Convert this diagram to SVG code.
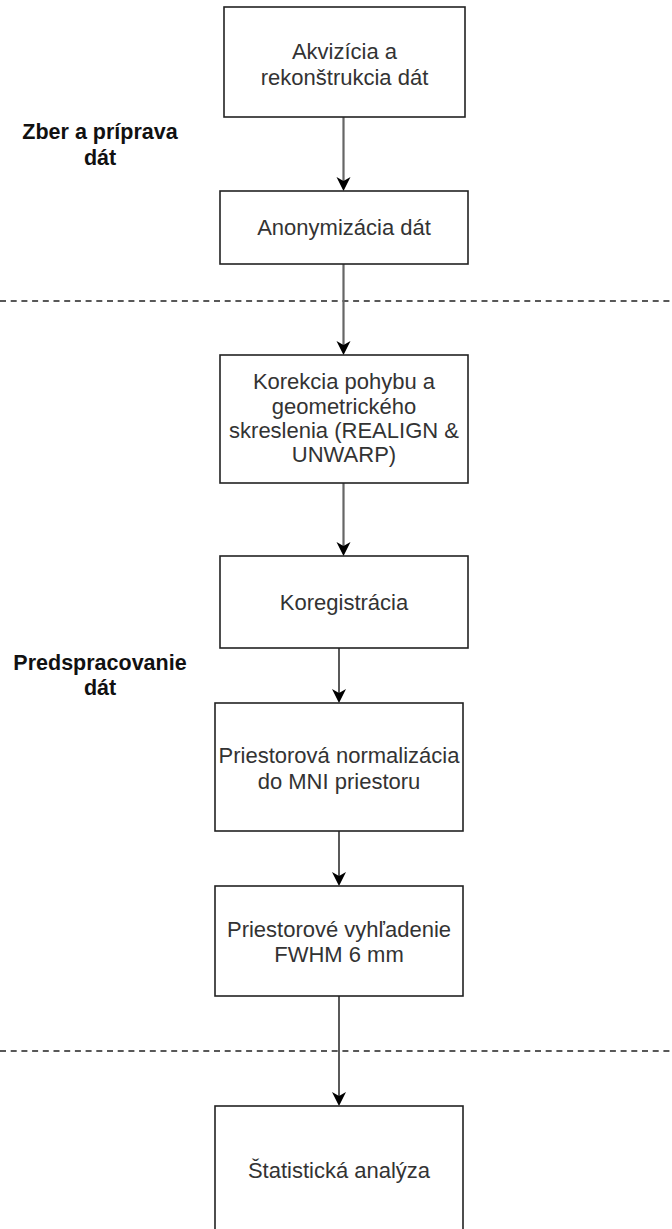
<svg xmlns="http://www.w3.org/2000/svg" width="672" height="1229" viewBox="0 0 672 1229">
<style>
.box{fill:#fff;stroke:#222;stroke-width:1.6}
.t{font-family:"Liberation Sans",Arial,sans-serif;font-size:22px;fill:#333;text-anchor:middle}
.lbl{font-family:"Liberation Sans",Arial,sans-serif;font-size:21.5px;font-weight:bold;fill:#111;text-anchor:middle}
.dash{stroke:#222;stroke-width:1.3;stroke-dasharray:6 4.7;fill:none}
.c1{stroke:#666;stroke-width:2.2;fill:none}
.c2{stroke:#000;stroke-width:1.3;fill:none}
</style>
<defs>
<path id="ah" d="M0,0 L-7,-14 L0,-10 L7,-14 Z" fill="#000"/>
</defs>
<rect width="672" height="1229" fill="#fff"/>
<g id="separators">
<line class="dash" x1="0" y1="301" x2="672" y2="301"/>
<line class="dash" x1="0" y1="1051" x2="672" y2="1051"/>
</g>
<g id="connectors">
<line class="c1" x1="343.5" y1="117" x2="343.5" y2="181"/>
<use href="#ah" x="343.5" y="191"/>
<line class="c1" x1="343.5" y1="264" x2="343.5" y2="345"/>
<use href="#ah" x="343.5" y="355"/>
<line class="c1" x1="343.5" y1="483" x2="343.5" y2="546"/>
<use href="#ah" x="343.5" y="556"/>
<line class="c2" x1="339" y1="648" x2="339" y2="693"/>
<use href="#ah" x="339" y="703"/>
<line class="c2" x1="339" y1="831" x2="339" y2="876"/>
<use href="#ah" x="339" y="886"/>
<line class="c2" x1="339" y1="996" x2="339" y2="1096"/>
<use href="#ah" x="339" y="1106"/>
</g>
<g id="label-zber">
<text class="lbl" x="100" y="139">Zber a príprava</text>
<text class="lbl" x="100" y="165">dát</text>
</g>
<g id="label-predspracovanie">
<text class="lbl" x="100" y="670">Predspracovanie</text>
<text class="lbl" x="100" y="695">dát</text>
</g>
<g id="n1">
<rect class="box" x="224" y="7" width="241" height="110"/>
<text class="t" x="344.5" y="59">Akvizícia a</text>
<text class="t" x="344.5" y="85">rekonštrukcia dát</text>
</g>
<g id="n2">
<rect class="box" x="220" y="191" width="248" height="73"/>
<text class="t" x="344" y="235">Anonymizácia dát</text>
</g>
<g id="n3">
<rect class="box" x="220" y="355" width="248" height="128"/>
<text class="t" x="344" y="389">Korekcia pohybu a</text>
<text class="t" x="344" y="413.5">geometrického</text>
<text class="t" x="344" y="438">skreslenia (REALIGN &amp;</text>
<text class="t" x="344" y="462">UNWARP)</text>
</g>
<g id="n4">
<rect class="box" x="220" y="556" width="248" height="92"/>
<text class="t" x="344" y="610">Koregistrácia</text>
</g>
<g id="n5">
<rect class="box" x="215" y="703" width="248" height="128"/>
<text class="t" x="339" y="763">Priestorová normalizácia</text>
<text class="t" x="339" y="789">do MNI priestoru</text>
</g>
<g id="n6">
<rect class="box" x="215" y="886" width="248" height="110"/>
<text class="t" x="339" y="937">Priestorové vyhľadenie</text>
<text class="t" x="339" y="962">FWHM 6 mm</text>
</g>
<g id="n7">
<rect class="box" x="215" y="1106" width="248" height="130"/>
<text class="t" x="339" y="1178">Štatistická analýza</text>
</g>
</svg>
